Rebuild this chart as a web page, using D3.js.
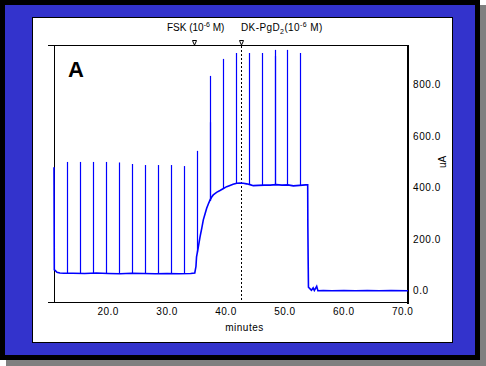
<!DOCTYPE html>
<html>
<head>
<meta charset="utf-8">
<script src="https://cdn.jsdelivr.net/npm/d3@7"></script>
<style>
  body { margin: 0; background: #fff; }
  svg { display: block; font-family: "Liberation Sans", Arial, sans-serif; }
</style>
</head>
<body>
<svg id="chart"></svg>
<script>
// trace: [minutes, uA]
var trace = [
    [10.8, 480], [10.85, 82], [11.0, 80], [11.3, 73], [11.8, 70], [12.5, 69],
    [14, 69], [16, 68], [18, 70], [20, 68], [22, 67], [24, 69], [26, 68],
    [28, 67], [30, 68], [32, 67], [34, 68], [34.7, 70], [34.9, 95], [35.0, 133],
    [35.3, 170], [35.6, 211], [35.9, 245], [36.15, 276], [36.45, 300], [36.72, 321],
    [37.0, 338], [37.28, 353], [37.55, 364], [37.84, 373], [38.4, 383], [38.98, 390],
    [39.5, 397], [40.12, 405], [40.68, 410], [41.2, 414], [41.82, 418], [42.4, 419],
    [42.94, 418], [43.5, 416], [44.07, 413], [44.64, 409], [45.5, 410], [46.5, 411],
    [47.5, 411], [48.5, 413], [49.5, 411], [50.5, 412], [51.43, 408], [52.5, 410],
    [53.5, 412], [53.87, 412], [53.9, 250], [53.95, 120], [54.0, 15], [54.2, 10],
    [54.5, 3], [54.8, 12], [55.0, 2], [55.4, 18], [55.6, 1], [56.5, 2], [58, 1],
    [60, 2], [62, 1], [64, 2], [66, 1], [68, 2], [70.9, 1]
];

// spikes: [minutes, base uA, peak uA]
var spikes = [
    [13.06, 69, 501], [15.27, 68, 501], [17.47, 69, 501], [19.68, 68, 501],
    [21.89, 67, 499], [24.09, 69, 493], [26.30, 68, 489], [28.51, 67, 489],
    [30.71, 68, 489], [32.92, 67, 485], [35.13, 150, 544], [37.23, 350, 835],
    [37.30, 352, 655], [39.54, 397, 901], [41.70, 417, 924], [43.96, 413, 924],
    [46.11, 411, 924], [48.32, 412, 936], [48.37, 412, 912], [50.41, 411, 936],
    [52.61, 410, 924]
];

var xTicks = [20, 30, 40, 50, 60, 70];
var yTicks = [0, 200, 400, 600, 800];
var markers = [
    { t: 34.62, label: "FSK" },
    { t: 42.63, label: "DK-PgD" }
];

var W = 486, H = 366;
var svg = d3.select("#chart").attr("width", W).attr("height", H);

// frame: shadow, black, blue, white panel
svg.append("rect").attr("x", 6).attr("y", 5).attr("width", 480).attr("height", 361).attr("fill", "#808080");
svg.append("rect").attr("x", 0).attr("y", 0).attr("width", 480).attr("height", 360).attr("fill", "#000");
svg.append("rect").attr("x", 5).attr("y", 5).attr("width", 470).attr("height", 350).attr("fill", "#3333cc");
svg.append("rect").attr("x", 32.5).attr("y", 17.5).attr("width", 420).attr("height", 325)
    .attr("fill", "#fff").attr("stroke", "#000").attr("stroke-width", 1);

var x = d3.scaleLinear().domain([10.8, 70.9]).range([54, 408]);
var y = d3.scaleLinear().domain([-46.6, 955]).range([303, 45]);

var g = svg.append("g");

// frame lines of the plot
g.append("line").attr("x1", 48).attr("x2", 408).attr("y1", 45.5).attr("y2", 45.5)
    .attr("stroke", "#000");
g.append("line").attr("x1", 48).attr("x2", 408).attr("y1", 302.5).attr("y2", 302.5)
    .attr("stroke", "#000");
g.append("line").attr("x1", 54.5).attr("x2", 54.5).attr("y1", 45).attr("y2", 303)
    .attr("stroke", "#000");
g.append("line").attr("x1", 408).attr("x2", 408).attr("y1", 45).attr("y2", 304)
    .attr("stroke", "#000").attr("stroke-width", 2);

// dotted line at second addition
g.append("line")
    .attr("x1", Math.round(x(markers[1].t)) + 0.5).attr("x2", Math.round(x(markers[1].t)) + 0.5)
    .attr("y1", 46).attr("y2", 302)
    .attr("stroke", "#000").attr("stroke-dasharray", "2,2");

// spikes
g.selectAll("line.spike")
    .data(spikes)
    .enter()
    .append("line")
    .attr("class", "spike")
    .attr("x1", function(d) { return Math.round(x(d[0])) + 0.5; })
    .attr("x2", function(d) { return Math.round(x(d[0])) + 0.5; })
    .attr("y1", function(d) { return y(d[1]); })
    .attr("y2", function(d) { return y(d[2]); })
    .attr("stroke", "#0000ff")
    .attr("stroke-width", 1.2);

// main trace
var line = d3.line()
    .x(function(d) { return x(d[0]); })
    .y(function(d) { return y(d[1]); });

g.append("path")
    .datum(trace)
    .attr("d", line)
    .attr("fill", "none")
    .attr("stroke", "#0000ff")
    .attr("stroke-width", 1.6);

// addition markers at top
g.selectAll("path.marker")
    .data(markers)
    .enter()
    .append("path")
    .attr("class", "marker")
    .attr("d", function(d) {
        var cx = Math.round(x(d.t)) + 0.5;
        return "M " + (cx - 2) + " 40.5 L " + (cx + 2) + " 40.5 L " + (cx + 1) + " 43 L " + cx + " 45 L " + (cx - 1) + " 43 Z";
    })
    .attr("fill", "#fff")
    .attr("stroke", "#000")
    .attr("stroke-width", 1);

// x tick labels
g.selectAll("text.xt")
    .data(xTicks)
    .enter()
    .append("text")
    .attr("class", "xt")
    .attr("x", function(d) { return x(d); })
    .attr("y", 315)
    .attr("text-anchor", "middle")
    .attr("font-size", 10)
    .attr("letter-spacing", 0.5)
    .text(function(d) { return d3.format(".1f")(d); });

// y tick labels on the right
g.selectAll("text.yt")
    .data(yTicks)
    .enter()
    .append("text")
    .attr("class", "yt")
    .attr("x", 413)
    .attr("y", function(d) { return y(d); })
    .attr("dy", "0.35em")
    .attr("font-size", 10)
    .attr("letter-spacing", 0.6)
    .text(function(d) { return d3.format(".1f")(d); });

svg.append("text")
    .attr("x", 244.5).attr("y", 331)
    .attr("text-anchor", "middle")
    .attr("font-size", 10)
    .attr("letter-spacing", 0.5)
    .text("minutes");

svg.append("text")
    .attr("transform", "translate(446,162) rotate(-90)")
    .attr("text-anchor", "middle")
    .attr("font-size", 10)
    .text("uA");

svg.append("text")
    .attr("x", 68).attr("y", 77)
    .attr("font-size", 22)
    .attr("font-weight", "bold")
    .text("A");

// addition labels
var t1 = svg.append("text").attr("x", 167).attr("y", 31).attr("font-size", 10);
t1.append("tspan").text("FSK (10");
t1.append("tspan").attr("dy", -4).attr("font-size", 7).text("-6");
t1.append("tspan").attr("dy", 4).text(" M)");

var t2 = svg.append("text").attr("x", 241).attr("y", 31).attr("font-size", 10)
    .attr("letter-spacing", 0.4);
t2.append("tspan").text("DK-PgD");
t2.append("tspan").attr("dy", 3).attr("font-size", 7).text("2");
t2.append("tspan").attr("dy", -3).text("(10");
t2.append("tspan").attr("dy", -4).attr("font-size", 7).text("-6");
t2.append("tspan").attr("dy", 4).text(" M)");
</script>
</body>
</html>
